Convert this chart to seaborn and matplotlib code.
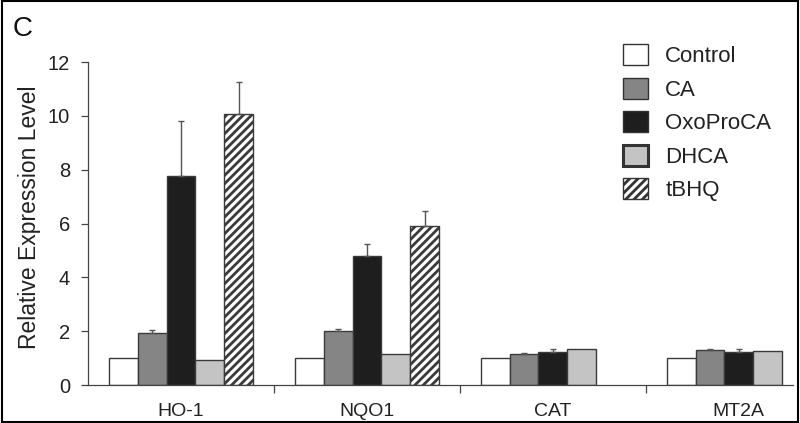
import numpy as np
import pandas as pd
import seaborn as sns
import matplotlib
matplotlib.use("Agg")
import matplotlib.pyplot as plt
from matplotlib.patches import Rectangle, Patch

genes = ["HO-1", "NQO1", "CAT", "MT2A"]
treatments = ["Control", "CA", "OxoProCA", "DHCA", "tBHQ"]
control = [1.0, 1.0, 1.0, 1.0]
ca = [1.95, 2.0, 1.15, 1.30]
oxoproca = [7.75, 4.80, 1.22, 1.22]
dhca = [0.93, 1.15, 1.34, 1.25]
tbhq = [10.07, 5.90, np.nan, np.nan]
err_control = [0.0, 0.0, 0.0, 0.0]
err_ca = [0.10, 0.08, 0.03, 0.05]
err_oxoproca = [2.05, 0.43, 0.12, 0.12]
err_dhca = [0.0, 0.0, 0.0, 0.0]
err_tbhq = [1.17, 0.55, np.nan, np.nan]

values = [control, ca, oxoproca, dhca, tbhq]
errors = [err_control, err_ca, err_oxoproca, err_dhca, err_tbhq]
colors = ["#ffffff", "#858585", "#1e1e1e", "#c4c4c4", "#ffffff"]

rows = []
for t, vals, errs in zip(treatments, values, errors):
    for g, v, e in zip(genes, vals, errs):
        if not np.isnan(v):
            rows.append({"gene": g, "treatment": t, "value": v, "err": e})
df = pd.DataFrame(rows)

sns.set_style("ticks")
plt.rcParams["font.family"] = ["Liberation Sans", "DejaVu Sans"]
plt.rcParams["hatch.linewidth"] = 2.0
plt.rcParams["hatch.color"] = "#222222"

fig = plt.figure(figsize=(8.0, 4.23), dpi=100)
ax = fig.add_axes([0.11, 0.0898, 0.881, 0.7636])

sns.barplot(data=df, x="gene", y="value", hue="treatment", order=genes,
            hue_order=treatments, palette=dict(zip(treatments, colors)),
            errorbar=None, width=0.775, edgecolor="#3a3a3a", linewidth=1.0,
            ax=ax, legend=False)

for ci, (cont, t) in enumerate(zip(ax.containers, treatments)):
    errs = errors[ci]
    for bar in cont:
        h = bar.get_height()
        if np.isnan(h):
            continue
        if t == "tBHQ":
            bar.set_hatch("////")
        xc = bar.get_x() + bar.get_width() / 2
        gi = int(round(xc))
        e = errs[gi]
        if e and not np.isnan(e) and e > 0:
            ax.errorbar(xc, h, yerr=[[0], [e]], fmt="none", ecolor="#555555",
                        elinewidth=1.0, capsize=2.5, capthick=1.0)

ax.set_xlim(-0.5, 3.29)
ax.set_ylim(0, 12)
ax.set_yticks([0, 2, 4, 6, 8, 10, 12])
ax.tick_params(axis="y", labelsize=14.5, length=5, width=0.9, color="#444444",
               pad=8, labelcolor="#222222")
ax.set_xticks([0, 1, 2, 3])
ax.set_xticklabels(genes, fontsize=14, color="#222222")
ax.tick_params(axis="x", length=0, pad=13)
ax.set_xticks([0.5, 1.5, 2.5], minor=True)
ax.tick_params(axis="x", which="minor", length=6, width=0.9, color="#444444")
ax.set_xlabel("")
ax.set_ylabel("Relative Expression Level", fontsize=16.5, labelpad=8,
              color="#222222")
ax.yaxis.set_label_coords(-0.067, 0.52)
for s in ["top", "right"]:
    ax.spines[s].set_visible(False)
for s in ["left", "bottom"]:
    ax.spines[s].set_color("#444444")
    ax.spines[s].set_linewidth(0.9)

handles = []
for t, c in zip(treatments, colors):
    lw = 2.2 if t == "DHCA" else 1.0
    handles.append(Patch(facecolor=c, edgecolor="#333333", linewidth=lw,
                         hatch="////" if t == "tBHQ" else None))
leg = ax.legend(handles, treatments, loc="upper left", bbox_to_anchor=(0.759, 1.055),
                frameon=False, fontsize=16, handlelength=1.13, handleheight=1.08,
                labelspacing=0.47, handletextpad=0.77, borderpad=0, borderaxespad=0)
for txt in leg.get_texts():
    txt.set_color("#222222")

fig.text(0.016, 0.962, "C", fontsize=20, va="top", ha="left", color="#111111")
fig.add_artist(Rectangle((0.002, 0.003), 0.995, 0.994, transform=fig.transFigure,
                         fill=False, edgecolor="black", linewidth=1.5))

fig.savefig("out.png", dpi=100)
